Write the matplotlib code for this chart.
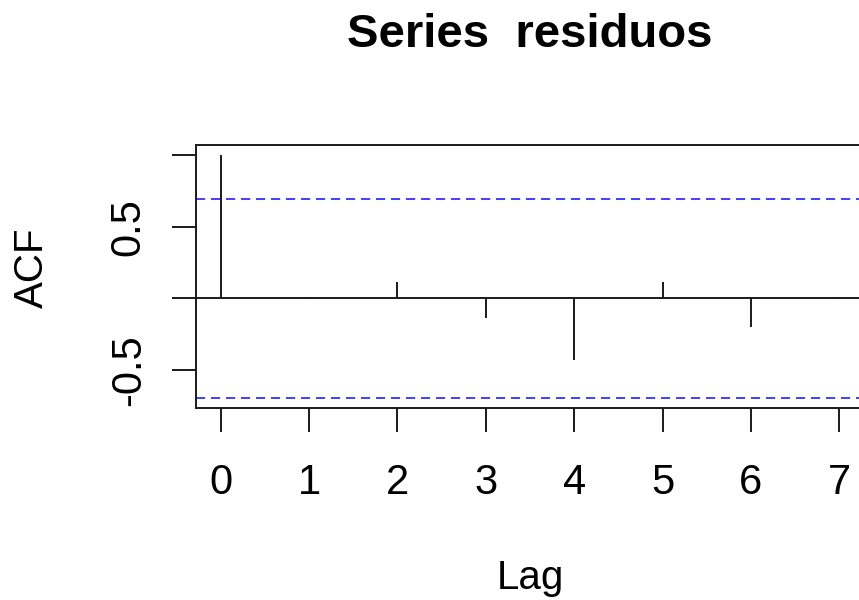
import numpy as np
import matplotlib
matplotlib.use("Agg")
import matplotlib.pyplot as plt

plt.rcParams['font.family'] = ['Liberation Sans', 'DejaVu Sans']

# Autocorrelation of the residuals
lags = [0, 1, 2, 3, 4, 5, 6, 7]
acf_values = [1.0, 0.012, 0.116, -0.139, -0.432, 0.116, -0.198, 0.012]
n_obs = 8
conf_limit = 1.96 / np.sqrt(n_obs)

fig = plt.figure(figsize=(8.59, 6.0), dpi=100)
ax = fig.add_axes([196 / 859, 1 - 407.7 / 600, (864 - 196) / 859, (407.7 - 145) / 600])

ax.vlines(lags, 0, acf_values, color='#1a1a1a', lw=1.4)
ax.axhline(0, color='#1a1a1a', lw=1.4)
ax.axhline(conf_limit, color='#2020ff', lw=1.2, linestyle=(0, (5.5, 3.5)))
ax.axhline(-conf_limit, color='#2020ff', lw=1.2, linestyle=(0, (5.5, 3.5)))

ymin, ymax = -conf_limit, 1.0
pad = 0.04 * (ymax - ymin)
ax.set_ylim(ymin - pad, ymax + pad)
ax.set_xlim(-0.28, 7.28)

ax.set_xticks(lags)
ax.set_xticklabels([str(l) for l in lags])
ax.set_yticks([-0.5, 0.0, 0.5, 1.0])
ax.set_yticklabels(['-0.5', '', '0.5', ''], rotation=90, va='center')

for s in ax.spines.values():
    s.set_linewidth(1.4)
    s.set_color('#1a1a1a')

ax.tick_params(axis='both', length=17, width=1.4, color='#1a1a1a', labelsize=30)
ax.tick_params(axis='x', pad=23)
ax.tick_params(axis='y', pad=17)

fig.text(530 / 859, 1 - 47 / 600, 'Series  residuos', ha='center', va='baseline',
         fontsize=34, fontweight='bold')
fig.text(530 / 859, 1 - 589 / 600, 'Lag', ha='center', va='baseline', fontsize=29)
fig.text(43 / 859, 1 - 268 / 600, 'ACF', ha='center', va='baseline', fontsize=29,
         rotation=90, rotation_mode='anchor')

fig.savefig('out.png', dpi=100)
